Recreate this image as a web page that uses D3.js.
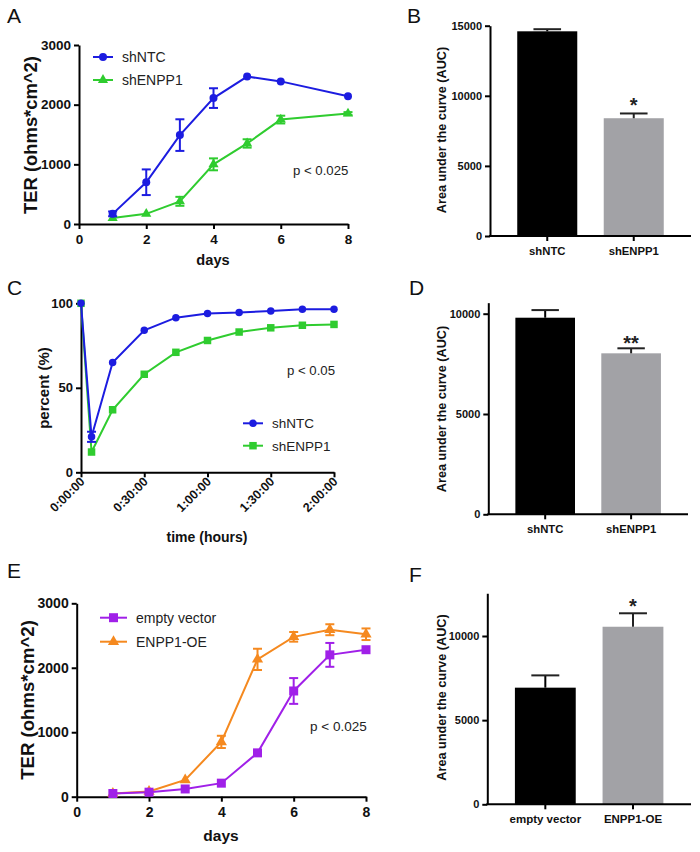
<!DOCTYPE html>
<html>
<head>
<meta charset="utf-8">
<script src="https://cdn.jsdelivr.net/npm/d3@7"></script>
<style>
  html, body { margin: 0; padding: 0; background: #ffffff; }
  svg { display: block; }
  text { font-family: "Liberation Sans", Arial, sans-serif; }
</style>
</head>
<body>
<svg id="chart" width="700" height="852"></svg>
<script>
// ---------------- DATA ----------------
// Panel A: TER over days (knockdown)
const daysA = [1, 2, 3, 4, 5, 6, 8];
const shNTC_TER = [170, 700, 1490, 2110, 2470, 2390, 2140];
const shNTC_TER_err = [40, 215, 265, 165, 0, 0, 0];
const shENPP1_TER = [100, 170, 380, 1000, 1350, 1750, 1850];
const shENPP1_TER_err = [0, 0, 75, 100, 70, 65, 25];
const dayTicks = [0, 2, 4, 6, 8];
const terTicks = [0, 1000, 2000, 3000];

// Panel B: AUC of A
const groupsKD = ["shNTC", "shENPP1"];
const aucB = [14600, 8400];
const aucB_err = [150, 340];
const aucBTicks = [0, 5000, 10000, 15000];

// Panel C: percent recovery over time (minutes)
const timeMin = [0, 5, 15, 30, 45, 60, 75, 90, 105, 120];
const shNTC_pct = [100, 21, 65, 84, 91.5, 94, 94.5, 95.5, 96.5, 96.5];
const shNTC_pct_err = [0, 3, 0, 0, 0, 0, 0, 0, 0, 0];
const shENPP1_pct = [100, 12, 37, 58, 71, 78, 83, 85.5, 87, 87.5];
const timeTicks = [0, 30, 60, 90, 120];
const timeTickLabels = ["0:00:00", "0:30:00", "1:00:00", "1:30:00", "2:00:00"];
const pctTicks = [0, 50, 100];

// Panel D: AUC of C
const aucD = [9800, 8025];
const aucD_err = [380, 250];
const aucDTicks = [0, 5000, 10000];

// Panel E: TER over days (overexpression)
const daysE = [1, 2, 3, 4, 5, 6, 7, 8];
const emptyVec_TER = [50, 70, 120, 210, 680, 1640, 2200, 2280];
const emptyVec_TER_err = [0, 0, 0, 0, 30, 200, 185, 0];
const oe_TER = [50, 80, 260, 850, 2130, 2480, 2590, 2520];
const oe_TER_err = [0, 0, 0, 95, 165, 75, 85, 90];

// Panel F: AUC of E
const groupsOE = ["empty vector", "ENPP1-OE"];
const aucF = [6930, 10550];
const aucF_err = [730, 800];
const aucFTicks = [0, 5000, 10000];

// ---------------- STYLE ----------------
const BLUE = "#1c1ce0", GREEN = "#2fcc2f", PURPLE = "#a020e8", ORANGE = "#f5891f";
const BLACK_BAR = "#000000", GRAY_BAR = "#a2a2a6";
const fmt = d3.format("d");
const svg = d3.select("#chart");

function panelLabel(t, x, y) {
  svg.append("text").attr("x", x).attr("y", y).text(t)
    .attr("font-family", "'Open Sans', 'Liberation Sans', sans-serif")
    .attr("font-size", 21).attr("fill", "#111");
}

function styleAxis(g, fs) {
  g.select(".domain").attr("stroke", "#000").attr("stroke-width", 2);
  g.selectAll(".tick line").attr("stroke", "#000").attr("stroke-width", 2);
  g.selectAll(".tick text").attr("font-size", fs).attr("font-weight", "bold")
    .attr("fill", "#111").attr("font-family", "'Liberation Sans', Arial, sans-serif");
}

function marker(g, shape, x, y, size, color) {
  if (shape === "circle") {
    g.append("circle").attr("cx", x).attr("cy", y).attr("r", size / 2).attr("fill", color);
  } else {
    const sym = shape === "square" ? d3.symbolSquare : d3.symbolTriangle;
    const area = shape === "square" ? size * size : size * size * 0.45;
    g.append("path").attr("d", d3.symbol().type(sym).size(area)())
      .attr("transform", `translate(${x},${y})`).attr("fill", color);
  }
}

function series(g, x, y, xs, ys, errs, color, shape, size) {
  const line = d3.line().x((d, i) => x(xs[i])).y(d => y(d));
  g.append("path").attr("d", line(ys)).attr("fill", "none")
    .attr("stroke", color).attr("stroke-width", 2);
  if (errs) {
    ys.forEach((v, i) => {
      if (!errs[i]) return;
      const cx = x(xs[i]), y1 = y(v - errs[i]), y2 = y(v + errs[i]);
      g.append("line").attr("x1", cx).attr("x2", cx).attr("y1", y1).attr("y2", y2)
        .attr("stroke", color).attr("stroke-width", 2);
      [y1, y2].forEach(yy => g.append("line").attr("x1", cx - 4.5).attr("x2", cx + 4.5)
        .attr("y1", yy).attr("y2", yy).attr("stroke", color).attr("stroke-width", 2));
    });
  }
  ys.forEach((v, i) => marker(g, shape, x(xs[i]), y(v), size, color));
}

function legendItem(g, x0, x1, y, color, shape, size, label, fs) {
  g.append("line").attr("x1", x0).attr("x2", x1).attr("y1", y).attr("y2", y)
    .attr("stroke", color).attr("stroke-width", 2);
  marker(g, shape, (x0 + x1) / 2, y, size, color);
  g.append("text").attr("x", x1 + 9).attr("y", y + 5).text(label)
    .attr("font-size", fs).attr("fill", "#222");
}

function ylabel(text, cx, cy, fs) {
  svg.append("text").attr("transform", `translate(${cx},${cy}) rotate(-90)`)
    .attr("text-anchor", "middle").attr("dominant-baseline", "central")
    .attr("font-size", fs).attr("font-weight", "bold").attr("fill", "#111").text(text);
}

function barPanel(opt) {
  const g = svg.append("g");
  const x = d3.scaleBand().domain(opt.groups).range([opt.x0, opt.x1])
    .paddingInner(0.306).paddingOuter(0.315);
  const y = d3.scaleLinear().domain([0, opt.ymax]).range([opt.yBottom, opt.yTop]);
  const colors = [BLACK_BAR, GRAY_BAR];
  g.selectAll("rect.bar").data(opt.values).enter().append("rect")
    .attr("x", (d, i) => x(opt.groups[i])).attr("width", x.bandwidth())
    .attr("y", d => y(d)).attr("height", d => y(0) - y(d))
    .attr("fill", (d, i) => colors[i]);
  opt.values.forEach((v, i) => {
    const cx = x(opt.groups[i]) + x.bandwidth() / 2;
    const cap = x.bandwidth() * 0.23;
    g.append("line").attr("x1", cx).attr("x2", cx).attr("y1", y(v)).attr("y2", y(v + opt.errs[i]))
      .attr("stroke", i === 0 ? "#000" : "#222").attr("stroke-width", 2);
    g.append("line").attr("x1", cx - cap).attr("x2", cx + cap)
      .attr("y1", y(v + opt.errs[i])).attr("y2", y(v + opt.errs[i]))
      .attr("stroke", "#222").attr("stroke-width", 2);
  });
  const yAxis = g.append("g").attr("transform", `translate(${opt.x0},0)`)
    .call(d3.axisLeft(y).tickValues(opt.ticks).tickFormat(fmt).tickSize(5).tickSizeOuter(0).tickPadding(3));
  styleAxis(yAxis, 11);
  const xAxis = g.append("g").attr("transform", `translate(0,${opt.yBottom})`)
    .call(d3.axisBottom(x).tickSize(5).tickSizeOuter(0).tickPadding(6));
  styleAxis(xAxis, opt.xfs);
  xAxis.select(".domain").attr("d", `M${opt.x0 - 1},0H${opt.x1}`);
  // significance star
  const si = 1;
  const sx = x(opt.groups[si]) + x.bandwidth() / 2;
  g.append("text").attr("x", sx).attr("y", y(opt.values[si] + opt.errs[si]) + opt.starDy)
    .attr("text-anchor", "middle").attr("font-size", 20).attr("font-weight", "bold")
    .attr("fill", "#222").text(opt.star);
  ylabel("Area under the curve (AUC)", opt.labelX, opt.labelY, 12.7);
}

// ---------------- PANEL A ----------------
(function () {
  const g = svg.append("g");
  const x = d3.scaleLinear().domain([0, 8]).range([79, 348]);
  const y = d3.scaleLinear().domain([0, 3000]).range([224, 45]);
  const xa = g.append("g").attr("transform", "translate(0,224)")
    .call(d3.axisBottom(x).tickValues(dayTicks).tickFormat(fmt).tickSize(5).tickSizeOuter(0).tickPadding(5));
  styleAxis(xa, 13.5);
  const ya = g.append("g").attr("transform", "translate(79,0)")
    .call(d3.axisLeft(y).tickValues(terTicks).tickFormat(fmt).tickSize(5).tickSizeOuter(0).tickPadding(3));
  styleAxis(ya, 13.5);
  series(g, x, y, daysA, shENPP1_TER, shENPP1_TER_err, GREEN, "triangle", 10);
  series(g, x, y, daysA, shNTC_TER, shNTC_TER_err, BLUE, "circle", 8);
  legendItem(g, 93, 113, 57, BLUE, "circle", 8, "shNTC", 14);
  legendItem(g, 93, 113, 80, GREEN, "triangle", 10, "shENPP1", 14);
  g.append("text").attr("x", 293).attr("y", 175).attr("font-size", 13.2).attr("fill", "#222").text("p < 0.025");
  g.append("text").attr("x", 213).attr("y", 265).attr("text-anchor", "middle")
    .attr("font-size", 14.6).attr("font-weight", "bold").attr("fill", "#111").text("days");
  ylabel("TER (ohms*cm^2)", 30, 135, 18.4);
  panelLabel("A", 7, 23);
})();

// ---------------- PANEL B ----------------
barPanel({ groups: groupsKD, values: aucB, errs: aucB_err, ticks: aucBTicks, ymax: 15000,
  x0: 490, x1: 691, yBottom: 236, yTop: 25.7, star: "*", starDy: -1.5, xfs: 11.3,
  labelX: 442, labelY: 130 });
panelLabel("B", 407, 23);

// ---------------- PANEL C ----------------
(function () {
  const g = svg.append("g");
  const x = d3.scaleLinear().domain([0, 120]).range([81, 334]);
  const y = d3.scaleLinear().domain([0, 100]).range([472.3, 303.3]);
  const xa = g.append("g").attr("transform", "translate(0,472.3)")
    .call(d3.axisBottom(x).tickValues(timeTicks).tickFormat((d, i) => timeTickLabels[i])
      .tickSize(5).tickSizeOuter(0));
  styleAxis(xa, 12.5);
  xa.selectAll(".tick text").attr("text-anchor", "end").attr("dy", null)
    .attr("transform", "translate(4,10) rotate(-45)").attr("y", 0).attr("x", 0);
  const ya = g.append("g").attr("transform", "translate(81,0)")
    .call(d3.axisLeft(y).tickValues(pctTicks).tickFormat(fmt).tickSize(5).tickSizeOuter(0).tickPadding(3));
  styleAxis(ya, 13);
  series(g, x, y, timeMin, shENPP1_pct, null, GREEN, "square", 7.5);
  series(g, x, y, timeMin, shNTC_pct, shNTC_pct_err, BLUE, "circle", 7.5);
  legendItem(g, 243, 263, 423.3, BLUE, "circle", 7.5, "shNTC", 13.5);
  legendItem(g, 243, 263, 445.7, GREEN, "square", 7.5, "shENPP1", 13.5);
  g.append("text").attr("x", 287).attr("y", 375).attr("font-size", 13.2).attr("fill", "#222").text("p < 0.05");
  g.append("text").attr("x", 207).attr("y", 542).attr("text-anchor", "middle")
    .attr("font-size", 14).attr("font-weight", "bold").attr("fill", "#111").text("time (hours)");
  ylabel("percent (%)", 43, 388, 15);
  panelLabel("C", 7, 295);
})();

// ---------------- PANEL D ----------------
barPanel({ groups: groupsKD, values: aucD, errs: aucD_err, ticks: aucDTicks, ymax: 10550,
  x0: 488.3, x1: 688, yBottom: 514.3, yTop: 514.3 - 10550 * 0.02006, star: "**", starDy: 1.5, xfs: 11.3,
  labelX: 442, labelY: 409 });
panelLabel("D", 409, 295);

// ---------------- PANEL E ----------------
(function () {
  const g = svg.append("g");
  const x = d3.scaleLinear().domain([0, 8]).range([76.7, 366]);
  const y = d3.scaleLinear().domain([0, 3000]).range([796.7, 603.3]);
  const xa = g.append("g").attr("transform", "translate(0,796.7)")
    .call(d3.axisBottom(x).tickValues(dayTicks).tickFormat(fmt).tickSize(5).tickSizeOuter(0).tickPadding(5));
  styleAxis(xa, 14);
  const ya = g.append("g").attr("transform", "translate(76.7,0)")
    .call(d3.axisLeft(y).tickValues(terTicks).tickFormat(fmt).tickSize(5).tickSizeOuter(0).tickPadding(3));
  styleAxis(ya, 14);
  series(g, x, y, daysE, oe_TER, oe_TER_err, ORANGE, "triangle", 11);
  series(g, x, y, daysE, emptyVec_TER, emptyVec_TER_err, PURPLE, "square", 9);
  legendItem(g, 100, 127, 617.7, PURPLE, "square", 9, "empty vector", 14);
  legendItem(g, 100, 127, 641.7, ORANGE, "triangle", 11, "ENPP1-OE", 14);
  g.append("text").attr("x", 310).attr("y", 731).attr("font-size", 13.5).attr("fill", "#222").text("p < 0.025");
  g.append("text").attr("x", 221).attr("y", 841).attr("text-anchor", "middle")
    .attr("font-size", 15.5).attr("font-weight", "bold").attr("fill", "#111").text("days");
  ylabel("TER (ohms*cm^2)", 27, 700, 18.6);
  panelLabel("E", 7, 578);
})();

// ---------------- PANEL F ----------------
barPanel({ groups: groupsOE, values: aucF, errs: aucF_err, ticks: aucFTicks, ymax: 12540,
  x0: 487.3, x1: 691, yBottom: 804.3, yTop: 804.3 - 12540 * 0.01683, star: "*", starDy: 0, xfs: 11.5,
  labelX: 442, labelY: 697.5 });
panelLabel("F", 409, 582);
</script>
</body>
</html>
